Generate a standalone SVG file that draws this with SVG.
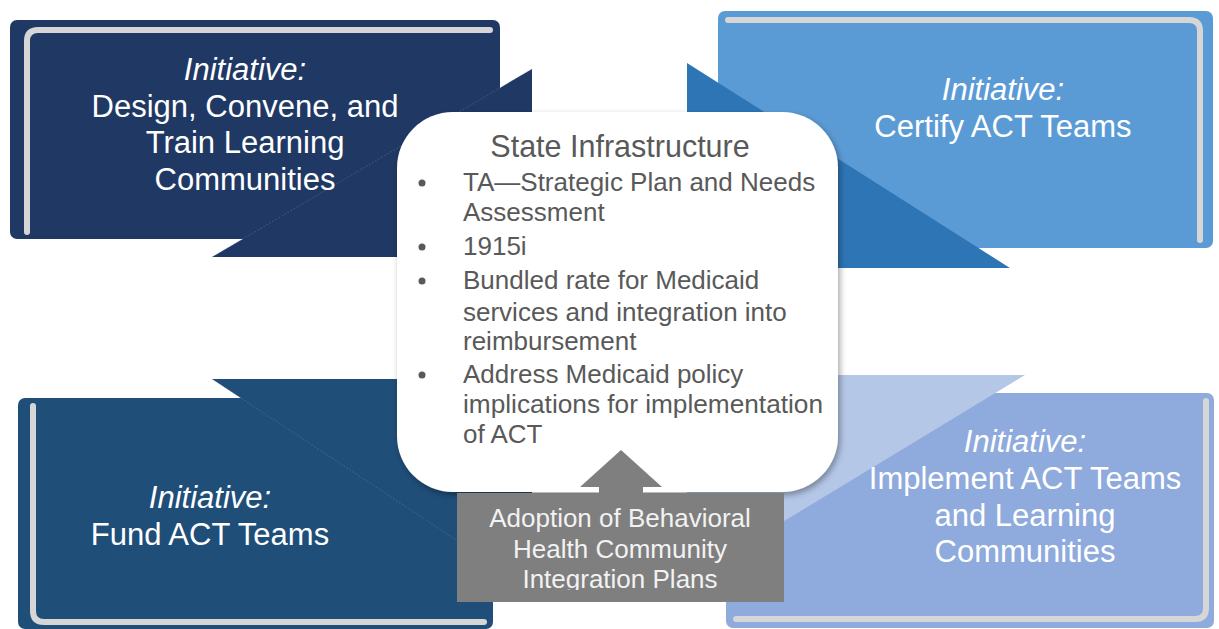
<svg xmlns="http://www.w3.org/2000/svg" width="1219" height="629" viewBox="0 0 1219 629">
<defs>
<style>
.init{font-family:"Liberation Sans",Arial,sans-serif;font-size:31px;fill:#ffffff;text-anchor:middle}
.it{font-style:italic}
.bevel{fill:none;stroke:#d6d6d6;stroke-width:6;stroke-linecap:round;stroke-linejoin:round}
.hyp{fill:none;stroke:#8090b0;stroke-width:0.8;stroke-opacity:0.45;stroke-dasharray:2 1.5}
.body{font-family:"Liberation Sans",Arial,sans-serif;font-size:26px;fill:#595959}
.title{font-family:"Liberation Sans",Arial,sans-serif;font-size:30.5px;fill:#595959;text-anchor:middle}
.gtxt{font-family:"Liberation Sans",Arial,sans-serif;font-size:26px;fill:#f2f2f2;text-anchor:middle}
.dot{fill:#595959}
</style>
<filter id="sh" x="-10%" y="-10%" width="125%" height="125%">
<feDropShadow dx="2" dy="3" stdDeviation="3" flood-color="#000" flood-opacity="0.35"/>
</filter>
<clipPath id="gclip"><rect x="457" y="493" width="327" height="97"/></clipPath>
</defs>
<rect width="1219" height="629" fill="#ffffff"/>

<g id="node-tl">
<rect x="10" y="20" width="490" height="219" rx="7" fill="#203864"/>
<path class="bevel" d="M27 232 L27 41 Q27 30 38 30 L490 30"/>
<polygon points="532,69 532,257 212,257" fill="#203864"/>
<line class="hyp" x1="212" y1="257" x2="532" y2="69"/>
<text class="init it" x="245" y="80">Initiative:</text>
<text class="init" x="245" y="117">Design, Convene, and</text>
<text class="init" x="245" y="153">Train Learning</text>
<text class="init" x="245" y="190">Communities</text>
</g>

<g id="node-tr">
<rect x="718" y="11" width="495" height="237" rx="7" fill="#5b9bd5"/>
<path class="bevel" d="M728 20 L1189 20 Q1200 20 1200 31 L1200 240"/>
<polygon points="687,63 687,268 1010,268" fill="#2e75b6"/>
<text class="init it" x="1003" y="100">Initiative:</text>
<text class="init" x="1003" y="137">Certify ACT Teams</text>
</g>

<g id="node-bl">
<rect x="18" y="398" width="475" height="231" rx="7" fill="#1f4e79"/>
<path class="bevel" d="M33 406 L33 611 Q33 622 44 622 L484 622"/>
<polygon points="212,379 532,379 532,590" fill="#1f4e79"/>
<line class="hyp" x1="212" y1="379" x2="532" y2="590"/>
<text class="init it" x="210" y="508">Initiative:</text>
<text class="init" x="210" y="545">Fund ACT Teams</text>
</g>

<g id="node-br">
<rect x="726" y="393" width="488" height="235" rx="7" fill="#8faadc"/>
<path class="bevel" d="M1206 401 L1206 608 Q1206 619 1195 619 L736 619"/>
<polygon points="1025,375 687,375 687,580" fill="#b4c7e7"/>
<text class="init it" x="1025" y="452">Initiative:</text>
<text class="init" x="1025" y="489">Implement ACT Teams</text>
<text class="init" x="1025" y="526">and Learning</text>
<text class="init" x="1025" y="562">Communities</text>
</g>

<g id="node-center">
<rect x="397" y="112" width="441" height="380" rx="56" fill="#ffffff" filter="url(#sh)"/>
<text class="title" x="620" y="157">State Infrastructure</text>
<circle class="dot" cx="422" cy="183" r="3.5"/>
<circle class="dot" cx="422" cy="247" r="3.5"/>
<circle class="dot" cx="422" cy="281" r="3.5"/>
<circle class="dot" cx="422" cy="375" r="3.5"/>
<text class="body" x="463" y="191">TA—Strategic  Plan and Needs</text>
<text class="body" x="463" y="221">Assessment</text>
<text class="body" x="463" y="255">1915i</text>
<text class="body" x="463" y="289">Bundled rate for Medicaid</text>
<text class="body" x="463" y="321">services and integration into</text>
<text class="body" x="463" y="350">reimbursement</text>
<text class="body" x="463" y="383">Address Medicaid policy</text>
<text class="body" x="463" y="413" textLength="360" lengthAdjust="spacingAndGlyphs">implications for implementation</text>
<text class="body" x="463" y="443">of ACT</text>
</g>

<g id="node-adoption">
<rect x="457" y="493" width="327" height="109" fill="#7f7f7f"/>
<g clip-path="url(#gclip)">
<text class="gtxt" x="620" y="527">Adoption of Behavioral</text>
<text class="gtxt" x="620" y="558">Health Community</text>
<text class="gtxt" x="620" y="588">Integration Plans</text>
</g>
</g>

<g id="connectors">
<polygon points="599,493 599,487 580,487 621,450 662,487 643,487 643,493" fill="#7f7f7f"/>
</g>
</svg>
